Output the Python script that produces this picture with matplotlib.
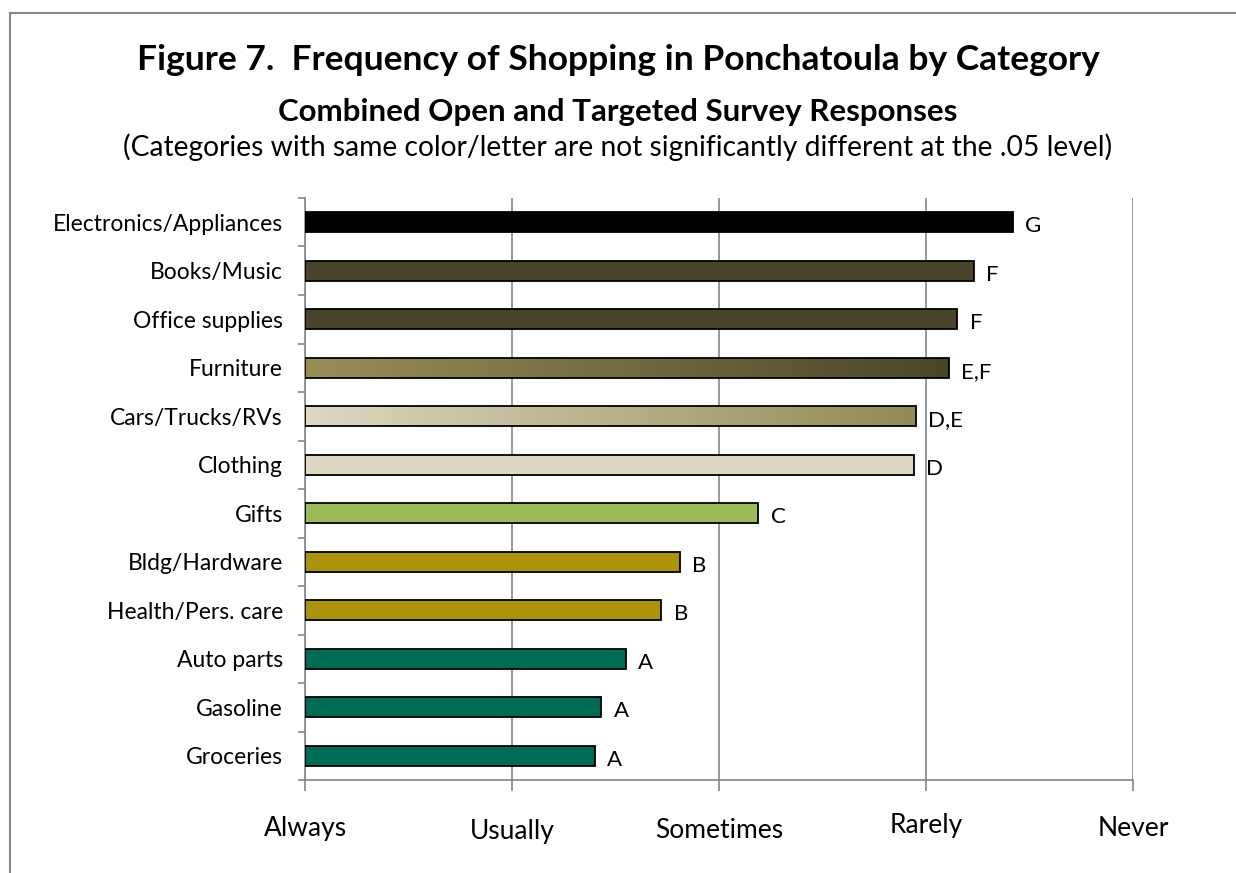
import matplotlib.pyplot as plt
import numpy as np
from matplotlib.colors import LinearSegmentedColormap
from matplotlib.lines import Line2D
import matplotlib.transforms as mtransforms

plt.rcParams['font.family'] = ['Lato', 'DejaVu Sans']

categorias = ['Electronics/Appliances', 'Books/Music', 'Office supplies', 'Furniture',
              'Cars/Trucks/RVs', 'Clothing', 'Gifts', 'Bldg/Hardware',
              'Health/Pers. care', 'Auto parts', 'Gasoline', 'Groceries']
# 1 = Always ... 5 = Never
valores = [4.42, 4.23, 4.15, 4.11, 3.95, 3.94, 3.19, 2.81, 2.72, 2.55, 2.43, 2.40]
letras = ['G', 'F', 'F', 'E,F', 'D,E', 'D', 'C', 'B', 'B', 'A', 'A', 'A']
cores = ['#000000', '#4a452a', '#4a452a', None, None, '#ddd9c3', '#9bbb59',
         '#ab930d', '#ab930d', '#006b54', '#006b54', '#006b54']
gradientes = {3: ('#9a8e57', '#4a452a'), 4: ('#ddd9c3', '#948a54')}
frequencia = ['Always', 'Usually', 'Sometimes', 'Rarely', 'Never']
ajuste_y = [0, -3, -2, 3, 0]  # desalinhamento dos rótulos no original

fig = plt.figure(figsize=(12.36, 8.73), dpi=100)
ax = fig.add_axes([0.2468, 0.1065, 0.6699, 0.6667])

n = len(categorias)
y = np.arange(n)[::-1]
barras = ax.barh(y, [v - 1 for v in valores], left=1, height=0.42,
                 color=[c if c else 'none' for c in cores],
                 edgecolor='black', linewidth=1.3, zorder=3)

# barras com gradiente
for i, (c1, c2) in gradientes.items():
    b = barras[i]
    cmap = LinearSegmentedColormap.from_list('g%d' % i, [c1, c2])
    grad = np.linspace(0, 1, 256).reshape(1, -1)
    x0, y0 = b.get_x(), b.get_y()
    im = ax.imshow(grad, cmap=cmap, aspect='auto', zorder=2.9,
                   extent=(x0, x0 + b.get_width(), y0, y0 + b.get_height()))
    im.set_clip_path(b)
ax.set_xlim(1, 5)
ax.set_ylim(-0.5, n - 0.5)

for i in range(n):
    ax.annotate(letras[i], (valores[i], y[i]), xytext=(9, -3),
                textcoords='offset points', va='center', ha='left', fontsize=16)

ax.set_yticks(y)
ax.set_yticklabels(categorias, fontsize=16.5)
ax.set_yticks(np.arange(-0.5, n, 1), minor=True)
ax.tick_params(axis='y', which='major', length=0, pad=16)
ax.tick_params(axis='y', which='minor', length=5, color='#868686', width=1.2)

ax.set_xticks(range(1, 6))
ax.set_xticklabels(frequencia, fontsize=19)
ax.tick_params(axis='x', length=8, color='#868686', width=1.2, pad=18)
for lbl, dy in zip(ax.get_xticklabels(), ajuste_y):
    lbl.set_transform(lbl.get_transform() +
                      mtransforms.ScaledTranslation(0, dy / 100, fig.dpi_scale_trans))

ax.grid(axis='x', color='#868686', linewidth=1.2, zorder=0)
for s in ['top', 'right']:
    ax.spines[s].set_visible(False)
for s in ['left', 'bottom']:
    ax.spines[s].set_color('#868686')
    ax.spines[s].set_linewidth(1.2)

fig.text(0.5, 0.931, 'Figure 7.  Frequency of Shopping in Ponchatoula by Category',
         ha='center', va='center', fontsize=25.5, fontweight='bold')
fig.text(0.5, 0.872, 'Combined Open and Targeted Survey Responses',
         ha='center', va='center', fontsize=22.5, fontweight='bold')
fig.text(0.5, 0.831, '(Categories with same color/letter are not significantly different at the .05 level)',
         ha='center', va='center', fontsize=20.3)

# moldura (só topo e esquerda visíveis)
fig.add_artist(Line2D([0.008, 1.0], [0.985, 0.985], color='#868686', lw=1.5))
fig.add_artist(Line2D([0.008, 0.008], [0.0, 0.985], color='#868686', lw=1.5))

fig.savefig('out.png', dpi=100)
